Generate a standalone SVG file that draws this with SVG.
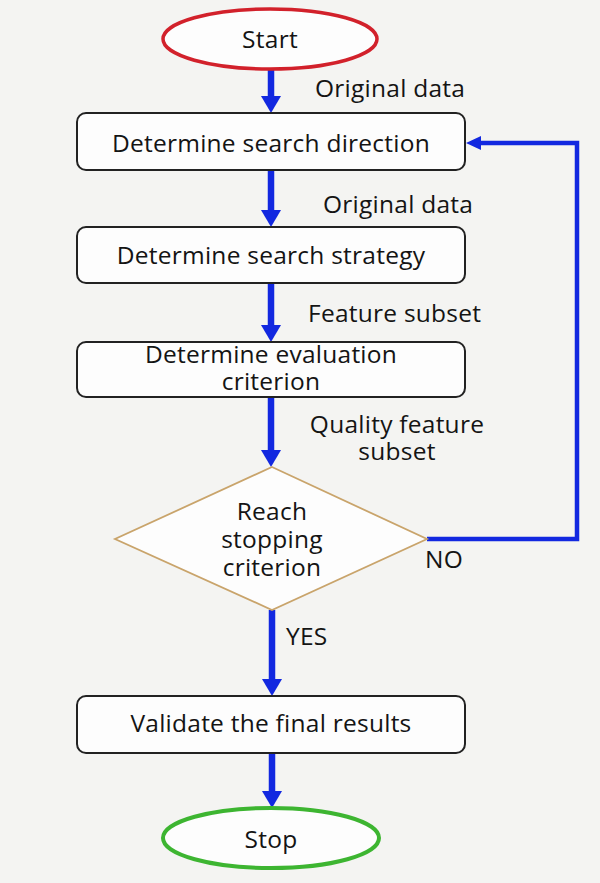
<svg xmlns="http://www.w3.org/2000/svg" width="600" height="883" viewBox="0 0 600 883">
<defs>
<style>
.t{font-family:"Open Sans","Noto Sans","DejaVu Sans",sans-serif;font-size:24.5px;letter-spacing:0.25px;fill:#141414}
.c{text-anchor:middle}
.box{fill:#fdfdfd;stroke:#222;stroke-width:2}
.ar{fill:none;stroke:#1228e0;stroke-width:6.5}
.lp{fill:none;stroke:#1228e0;stroke-width:4.5}
</style>
<marker id="ah" markerUnits="userSpaceOnUse" viewBox="0 0 17 20" markerWidth="17" markerHeight="20" refX="7" refY="10" orient="auto">
<path d="M0,0 L17,10 L0,20 z" fill="#1228e0"/>
</marker>
<marker id="ah2" markerUnits="userSpaceOnUse" viewBox="0 0 15 14" markerWidth="15" markerHeight="14" refX="6" refY="7" orient="auto">
<path d="M0,0 L15,7 L0,14 z" fill="#1228e0"/>
</marker>
</defs>
<rect width="600" height="883" fill="#f4f4f2"/>
<g id="connectors">
<line class="ar" x1="271" y1="69" x2="271" y2="103" marker-end="url(#ah)"/>
<line class="ar" x1="271" y1="170" x2="271" y2="217" marker-end="url(#ah)"/>
<line class="ar" x1="271" y1="283" x2="271" y2="332" marker-end="url(#ah)"/>
<line class="ar" x1="271" y1="397" x2="271" y2="457" marker-end="url(#ah)"/>
<line class="ar" x1="272" y1="610" x2="272" y2="686" marker-end="url(#ah)"/>
<line class="ar" x1="272" y1="753" x2="272" y2="798" marker-end="url(#ah)"/>
<polyline class="lp" points="427,539 577,539 577,143 475,143" marker-end="url(#ah2)"/>
<text class="t" x="315" y="97">Original data</text>
<text class="t" x="323" y="213">Original data</text>
<text class="t" x="308" y="322">Feature subset</text>
<text class="t c" x="397" y="433">Quality feature</text>
<text class="t c" x="397" y="460">subset</text>
<text class="t" x="425" y="568">NO</text>
<text class="t" x="286" y="645">YES</text>
</g>
<g id="start">
<ellipse cx="270" cy="39" rx="107" ry="30" fill="#fdfdfd" stroke="#d2212b" stroke-width="3.5"/>
<text class="t c" x="270" y="48">Start</text>
</g>
<g id="direction">
<rect class="box" x="77" y="113" width="388" height="57" rx="9"/>
<text class="t c" x="271" y="152">Determine search direction</text>
</g>
<g id="strategy">
<rect class="box" x="77" y="227" width="388" height="56" rx="9"/>
<text class="t c" x="271" y="264">Determine search strategy</text>
</g>
<g id="evaluation">
<rect class="box" x="77" y="342" width="388" height="55" rx="9"/>
<text class="t c" x="271" y="363">Determine evaluation</text>
<text class="t c" x="271" y="390">criterion</text>
</g>
<g id="decision">
<polygon points="272,467 427,539 272,610 115,539" fill="#fdfdfd" stroke="#c9a46b" stroke-width="1.8"/>
<text class="t c" x="272" y="520">Reach</text>
<text class="t c" x="272" y="548">stopping</text>
<text class="t c" x="272" y="576">criterion</text>
</g>
<g id="validate">
<rect class="box" x="77" y="696" width="388" height="57" rx="9"/>
<text class="t c" x="271" y="732">Validate the final results</text>
</g>
<g id="stop">
<ellipse cx="271" cy="838" rx="108" ry="30" fill="#fdfdfd" stroke="#3db531" stroke-width="4"/>
<text class="t c" x="271" y="848">Stop</text>
</g>
</svg>
